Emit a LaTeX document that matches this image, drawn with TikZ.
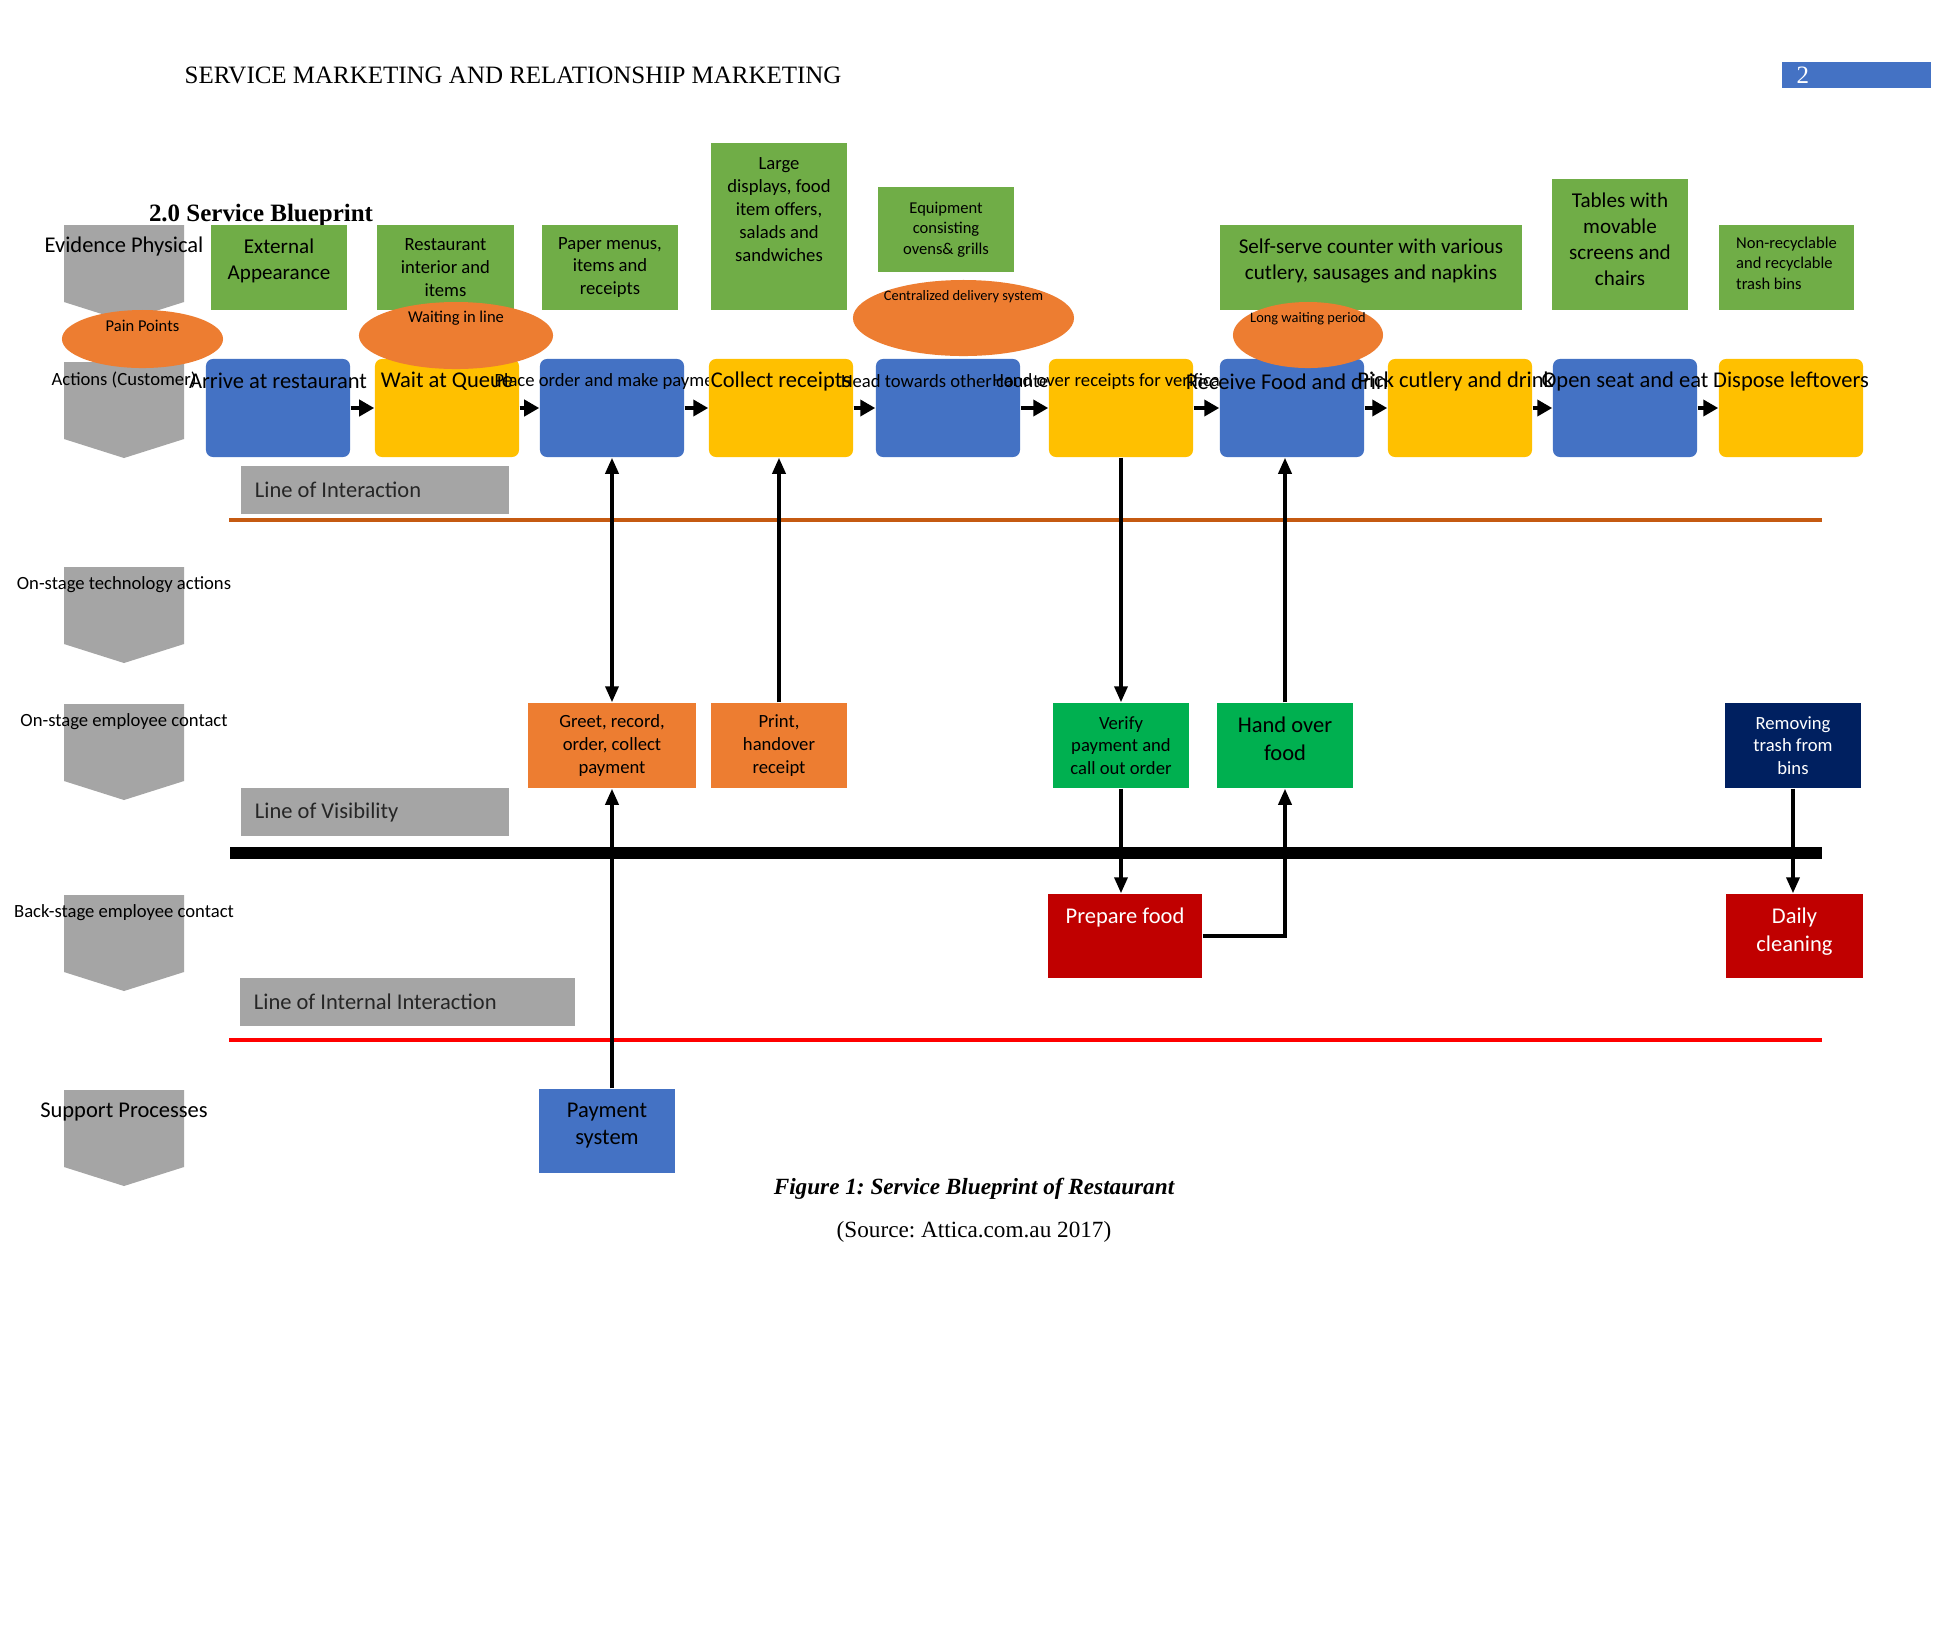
\documentclass[tikz,border=0pt]{standalone}
\usepackage{fontspec}
\setmainfont{Carlito}
\newfontfamily\timesfont{Liberation Serif}
\usetikzlibrary{arrows.meta,positioning,shapes.geometric}
\frenchspacing

\definecolor{evgreen}{HTML}{70AD47}
\definecolor{actblue}{HTML}{4472C4}
\definecolor{actyellow}{HTML}{FFC000}
\definecolor{painorange}{HTML}{ED7D31}
\definecolor{staffgreen}{HTML}{00B050}
\definecolor{backred}{HTML}{C00000}
\definecolor{binnavy}{HTML}{002060}
\definecolor{lanegray}{HTML}{A5A5A5}
\definecolor{lineorange}{HTML}{C55A11}

\begin{document}
\begin{tikzpicture}[
				x=0.01cm, y=-0.01cm,
				every node/.style={inner sep=0pt, align=center},
				fL/.style={font=\fontsize{6.4}{7.8}\selectfont},
				fN/.style={font=\fontsize{6}{7.4}\selectfont},
				fM/.style={font=\fontsize{5.3}{6.5}\selectfont},
				fS/.style={font=\fontsize{4.7}{5.8}\selectfont},
				fXS/.style={font=\fontsize{4.1}{5}\selectfont},
				evbox/.style={
					fill=evgreen,
					minimum width=1.36cm,
					minimum height=0.85cm
				},
				toptext/.style={below=0.14cm},
				actbox/.style={
					rounded corners=2pt,
					minimum width=1.44cm,
					minimum height=0.98cm
				},
				acttext/.style={anchor=center, yshift=-0.23cm},
				pain/.style={ellipse, fill=painorange},
				paintext/.style={anchor=center, yshift=-0.17cm},
				lanebox/.style={
					fill=lanegray,
					minimum height=0.48cm
				},
				lanetext/.style={anchor=west, xshift=0.14cm, text=black!85, fL},
				staffbox/.style={
					minimum width=1.36cm,
					minimum height=0.85cm
				},
				flow/.style={
					-{Triangle[length=0.15cm,width=0.16cm]},
					line width=1.2pt
				},
				conn/.style={
					-{Triangle[length=0.16cm,width=0.13cm]},
					line width=1pt
				},
				twoway/.style={
					{Triangle[length=0.16cm,width=0.13cm]}-{Triangle[length=0.16cm,width=0.13cm]}
				}
				]
				\path[use as bounding box, fill=white] (0,0) rectangle (1950,1650);
				
				% page header
				\node[anchor=west, font=\timesfont\fontsize{7.1}{8.5}\selectfont] (header) at (184,75)
				{SERVICE MARKETING AND RELATIONSHIP MARKETING};
				\node[fill=actblue, minimum width=1.49cm, minimum height=0.26cm, anchor=north west] (pagebox) at (1781,61) {};
				\node[anchor=west, text=white, font=\timesfont\fontsize{7.1}{8.5}\selectfont] (pagenum) at (1796,75) {2};
				\node[font=\timesfont\bfseries\fontsize{7.1}{8.5}\selectfont] (title) at (261,215) {2.0 Service Blueprint};
				
				% row chevrons
				\foreach \t in {225,362,567,704,895,1090}
				\fill[lanegray] (64,\t) -- (184,\t) -- (184,\t+77) -- (124,\t+96) -- (64,\t+77) -- cycle;
				\node[fL] (row-ev) at (124,246) {Evidence Physical};
				\node[fM] (row-act) at (124,380) {Actions (Customer)};
				\node[fM] (row-tech) at (124,585) {On-stage technology actions};
				\node[fM] (row-front) at (124,722) {On-stage employee contact};
				\node[fM] (row-back) at (124,913) {Back-stage employee contact};
				\node[fL] (row-sup) at (124,1112) {Support Processes};
				
				% physical evidence
				\node[evbox, label={[fN, toptext]north:External\\Appearance}] (ev1) at (279,267.5) {};
				\node[evbox, fM] (ev2) at (445.5,267.5) {Restaurant\\interior and\\items};
				\node[evbox, fM] (ev3) at (610,267.5) {Paper menus,\\items and\\receipts};
				\node[evbox, minimum height=1.67cm,
				label={[fM, below=0.15cm]north:Large\\displays, food\\item offers,\\salads and\\sandwiches}] (ev4) at (779,226.5) {};
				\node[evbox, fS] (ev5) at (946,229.5) {Equipment\\consisting\\ovens\& grills};
				\node[evbox, minimum width=3.02cm,
				label={[fN, toptext]north:Self-serve counter with various\\cutlery, sausages and napkins}] (ev6) at (1371,267.5) {};
				\node[evbox, minimum height=1.31cm,
				label={[fN, toptext]north:Tables with\\movable\\screens and\\chairs}] (ev7) at (1620,244.5) {};
				\node[evbox, minimum width=1.35cm,
				label={[fS, align=left, below=0.12cm]north:Non-recyclable\\and recyclable\\trash bins}] (ev8) at (1786.5,267.5) {};
				
				% customer actions
				\node[actbox, fill=actblue, label={[acttext,fL]north:Arrive at restaurant}] (a1) at (278,408) {};
				\node[actbox, fill=actyellow, label={[acttext,fL]north:Wait at Queue}] (a2) at (447,408) {};
				\node[actbox, fill=actblue, label={[acttext,fM]north:Place order and make payment}] (a3) at (612,408) {};
				\node[actbox, fill=actyellow, label={[acttext,fL]north:Collect receipts}] (a4) at (781,408) {};
				\node[actbox, fill=actblue, label={[acttext,fM]north:Head towards other counter}] (a5) at (948,408) {};
				\node[actbox, fill=actyellow, label={[acttext,fM]north:Hand over receipts for verification}] (a6) at (1121,408) {};
				\node[actbox, fill=actblue, label={[acttext,fL]north:Receive Food and drink}] (a7) at (1292,408) {};
				\node[actbox, fill=actyellow, label={[acttext,fL]north:Pick cutlery and drinks}] (a8) at (1460,408) {};
				\node[actbox, fill=actblue, label={[acttext,fL]north:Open seat and eat}] (a9) at (1625,408) {};
				\node[actbox, fill=actyellow, label={[acttext,fL]north:Dispose leftovers}] (a10) at (1791,408) {};
				
				\foreach \i [count=\j from 2] in {1,...,9}
				\draw[flow] (a\i.east) -- (a\j.west);
				
				% pain points
				\node[pain, minimum width=1.61cm, minimum height=0.58cm,
				label={[paintext,fS]north:Pain Points}] (pp1) at (142.5,339) {};
				\node[pain, minimum width=1.94cm, minimum height=0.67cm,
				label={[paintext,fS]north:Waiting in line}] (pp2) at (456,335.5) {};
				\node[pain, minimum width=2.21cm, minimum height=0.76cm,
				label={[paintext,fXS]north:Centralized delivery system}] (pp3) at (963.5,318) {};
				\node[pain, minimum width=1.50cm, minimum height=0.66cm,
				label={[paintext,fXS]north:Long waiting period}] (pp4) at (1308,335) {};
				
				% lines
				\draw[lineorange, line width=1.1pt] (229,520) -- (1822,520);
				\draw[black, line width=3.4pt] (230,853) -- (1822,853);
				\draw[red, line width=1.1pt] (229,1040) -- (1822,1040);
				
				\node[lanebox, minimum width=2.68cm, label={[lanetext]west:Line of Interaction}] (loi) at (375,489.5) {};
				\node[lanebox, minimum width=2.68cm, label={[lanetext]west:Line of Visibility}] (lov) at (375,812) {};
				\node[lanebox, minimum width=3.35cm, label={[lanetext]west:Line of Internal Interaction}] (lii) at (407.5,1002) {};
				
				% employee and support steps
				\node[staffbox, fill=painorange, minimum width=1.68cm, fM] (greet) at (612,745.5) {Greet, record,\\order, collect\\payment};
				\node[staffbox, fill=painorange, fM] (print) at (779,745.5) {Print,\\handover\\receipt};
				\node[staffbox, fill=staffgreen, fM] (verify) at (1121,745.5) {Verify\\payment and\\call out order};
				\node[staffbox, fill=staffgreen,
				label={[fL, toptext]north:Hand over\\food}] (handover) at (1285,745.5) {};
				\node[staffbox, fill=binnavy, text=white, fM] (removing) at (1793,745.5) {Removing\\trash from\\bins};
				\node[staffbox, fill=backred, minimum width=1.54cm, minimum height=0.84cm,
				label={[fL, text=white, toptext]north:Prepare food}] (prep) at (1125,936) {};
				\node[staffbox, fill=backred, minimum height=0.84cm,
				label={[fL, text=white, toptext]north:Daily\\cleaning}] (daily) at (1794.5,936) {};
				\node[staffbox, fill=actblue, minimum height=0.84cm,
				label={[fL, toptext]north:Payment\\system}] (pay) at (607,1131) {};
				
				\draw[conn, twoway] (a3.south) -- (greet.north);
				\draw[conn] (greet.south |- pay.north) -- (greet.south);
				\draw[conn] (print.north) -- (print.north |- a4.south);
				\draw[conn] (a6.south) -- (verify.north);
				\draw[conn] (handover.north) -- (handover.north |- a7.south);
				\draw[conn] (verify.south) -- (verify.south |- prep.north);
				\draw[conn] (prep.east) -| (handover.south);
				\draw[conn] (removing.south) -- (removing.south |- daily.north);
				
				% caption
				\node[font=\timesfont\bfseries\itshape\fontsize{6.6}{8}\selectfont] (caption) at (974,1189)
				{Figure 1: Service Blueprint of Restaurant};
				\node[font=\timesfont\fontsize{6.6}{8}\selectfont] (source) at (974,1232)
				{(Source: Attica.com.au 2017)};
			\end{tikzpicture}
\end{document}
